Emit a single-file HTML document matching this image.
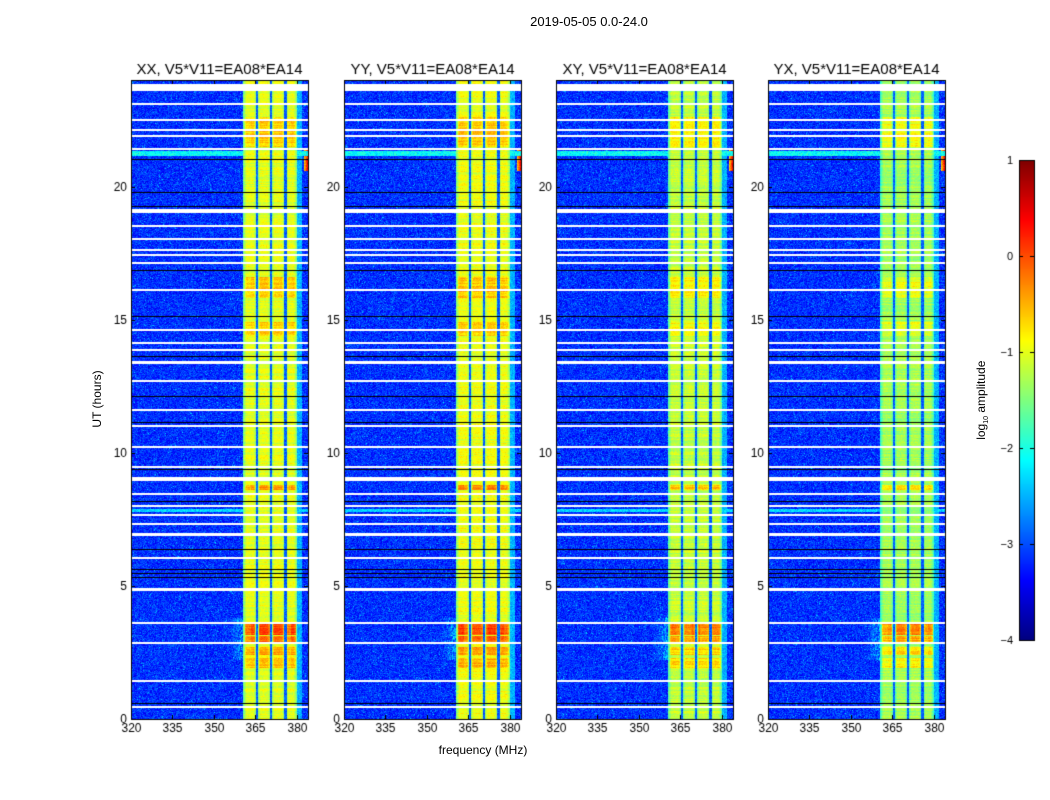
<!DOCTYPE html>
<html><head><meta charset="utf-8">
<style>
body{margin:0;background:#fff;}
#wrap{position:relative;width:1050px;height:800px;font-family:"Liberation Sans","DejaVu Sans",sans-serif;color:#000;overflow:hidden}
.t{position:absolute;white-space:nowrap}
canvas{position:absolute}
</style></head>
<body>
<div id="wrap">
<div class="t" style="left:489px;top:14px;width:200px;text-align:center;font-size:13px">2019-05-05 0.0-24.0</div>
<div class="t" style="left:383px;top:743px;width:200px;text-align:center;font-size:12px">frequency (MHz)</div>
<div class="t" style="left:47px;top:392px;width:100px;text-align:center;font-size:12px;transform:rotate(-90deg)">UT (hours)</div>
<div class="t" style="left:922px;top:392px;width:120px;text-align:center;font-size:12px;transform:rotate(-90deg)">log<sub style="font-size:7px">10</sub> amplitude</div>
<canvas id="cv" width="1050" height="800" style="left:0;top:0"></canvas>
</div>
<script>
// ---- data ----
const panelTitles=["XX, V5*V11=EA08*EA14","YY, V5*V11=EA08*EA14","XY, V5*V11=EA08*EA14","YX, V5*V11=EA08*EA14"];
const panelLeft=[131,344,556,768];
const xTicks=[320,335,350,365,380];
const yTicks=[0,5,10,15,20];
const cbTicks=[1,0,-1,-2,-3,-4];
const freqRange=[320,384];
const hourRange=[0,24];
const bandRange=[360.6,380.1];
const subbandEdges=[365.6,370.7,375.8];
const flaggedRows=[[23.6,23.85],[23.1,23.15],[22.5,22.55],[22.1,22.15],[21.9,21.95],[21.4,21.45],[19.0,19.15],[18.5,18.55],[18.0,18.05],[17.6,17.65],[17.4,17.45],[17.1,17.15],[16.1,16.15],[14.6,14.65],[14.1,14.15],[13.85,13.9],[13.35,13.45],[12.7,12.75],[11.6,11.65],[11.0,11.05],[10.2,10.25],[9.45,9.5],[8.95,9.1],[8.45,8.5],[8.0,8.05],[7.65,7.7],[7.3,7.35],[6.85,6.97],[6.05,6.1],[4.8,4.92],[3.6,3.65],[2.85,2.9],[1.43,1.48],[0.43,0.48]];
const darkRows=[[21.05],[19.8],[19.25],[16.85],[15.15],[13.65],[12.15],[11.15],[9.4],[8.2],[6.4],[5.65],[5.5],[5.35],[0.6]];
const hotRows=[[1.9,2.3,0.5],[2.4,2.7,0.6],[2.9,3.1,0.9],[3.15,3.55,1.1],[8.6,8.8,0.7],[15.8,16.6,0.4],[14.4,14.9,0.35],[21.5,22.6,0.4]];
const bandLevel=[-1.0,-0.95,-1.15,-1.3];
const cyanRows=[[21.15,21.35,-2.1],[7.78,7.88,-2.3]];
const vmin=-4,vmax=1;
// ---- drawing ----
const cv=document.getElementById('cv'),ctx=cv.getContext('2d');
const W=177,top0=80,bot=719;
function xScale(f,l){return l+(f-freqRange[0])/(freqRange[1]-freqRange[0])*W;}
function yScale(h){return bot-(h-hourRange[0])/(hourRange[1]-hourRange[0])*(bot-top0);}
function jet(t){t=Math.max(0,Math.min(1,t));
 const r=Math.max(0,Math.min(1,1.5-Math.abs(4*t-3))),g=Math.max(0,Math.min(1,1.5-Math.abs(4*t-2))),b=Math.max(0,Math.min(1,1.5-Math.abs(4*t-1)));
 return [r*255|0,g*255|0,b*255|0];}
function hash(a,b,c){let h=(a*374761393+b*668265263+c*2147483647)|0;h=(h^(h>>>13))*1274126177|0;return ((h^(h>>>16))>>>0)/4294967296;}
const H=bot-top0;
panelLeft.forEach((L,p)=>{
 const img=ctx.createImageData(W,H);
 for(let y=0;y<H;y++){
  const h=hourRange[1]-(y+0.5)/H*(hourRange[1]-hourRange[0]);
  const rowJit=(hash(0,y,p+9)-0.5)*0.3;
  for(let x=0;x<W;x++){
   const f=freqRange[0]+(x+0.5)/W*(freqRange[1]-freqRange[0]);
   const n=(hash(x,y,p)+hash(x+7,y*3,p+1)-1);
   let v=-3.15+n*0.45;
   if(hash(x,y,p+5)>0.97) v+=0.5;
   if(f>=bandRange[0]&&f<=bandRange[1]){
     let d=1e9;const ed=[bandRange[0],...subbandEdges,bandRange[1]];
     for(const e of ed)d=Math.min(d,Math.abs(f-e));
     v=bandLevel[p]+n*0.2+rowJit-Math.max(0,1.2-d)*0.5;
     for(const e of subbandEdges){if(Math.abs(f-e)<0.45)v=-2.9+n*0.3;}
     for(const hr of hotRows){if(h>=hr[0]&&h<=hr[1]&&d>0.6)v+=hr[2]*(1-0.3*hash(x>>3,0,p));}
   } else if(f>355&&f<bandRange[0]&&h>2.2&&h<3.8){v+=(f-355)/5.6*0.9*hash(x,y>>1,p+3);}
   else if(f>bandRange[1]){ if(f<382)v=-2.5+n*0.3; if(h>20.6&&h<21.4&&f>382.5)v=-0.8+(f-382.5)*0.9+n*0.3; }
   for(const c of cyanRows){if(h>=c[0]&&h<=c[1]&&!(f>=bandRange[0]&&f<=bandRange[1]))v=c[2]+n*0.4;}
   const col=jet((v-vmin)/(vmax-vmin));
   const i=(y*W+x)*4;img.data[i]=col[0];img.data[i+1]=col[1];img.data[i+2]=col[2];img.data[i+3]=255;
  }
 }
 ctx.putImageData(img,L,top0);
 ctx.fillStyle='#000';
 darkRows.forEach(r=>{ctx.fillRect(L,Math.round(yScale(r[0])),W,1);});
 ctx.fillStyle='#fff';
 flaggedRows.forEach(r=>{const y1=yScale(r[1]),y0=yScale(r[0]);ctx.fillRect(L,Math.round(y1),W,Math.max(2,Math.round(y0-y1)));});
 ctx.strokeStyle='#000';ctx.lineWidth=1;ctx.strokeRect(L+0.5,top0+0.5,W,H);
 ctx.font='12px "Liberation Sans",sans-serif';ctx.fillStyle='#000';
 ctx.textAlign='center';ctx.textBaseline='top';
 xTicks.forEach(t=>{const x=Math.round(xScale(t,L))+0.5;ctx.beginPath();ctx.moveTo(x,bot);ctx.lineTo(x,bot-4);ctx.moveTo(x,top0);ctx.lineTo(x,top0+4);ctx.stroke();ctx.fillText(String(t),x,bot+4);});
 ctx.textAlign='right';ctx.textBaseline='middle';
 yTicks.forEach(t=>{const y=Math.round(yScale(t))+0.5;ctx.beginPath();ctx.moveTo(L,y);ctx.lineTo(L+4,y);ctx.moveTo(L+W,y);ctx.lineTo(L+W-4,y);ctx.stroke();ctx.fillText(String(t),L-4,y);});
 ctx.font='15px "Liberation Sans",sans-serif';ctx.textAlign='center';ctx.textBaseline='alphabetic';
 ctx.fillText(panelTitles[p],L+W/2,74);
});
// colorbar
const cbX=1019,cbW=15,cbT=160,cbB=640;
for(let y=cbT;y<cbB;y++){const c=jet(1-(y-cbT)/(cbB-cbT));ctx.fillStyle=`rgb(${c[0]},${c[1]},${c[2]})`;ctx.fillRect(cbX,y,cbW,1);}
ctx.strokeStyle='#000';ctx.strokeRect(cbX+0.5,cbT+0.5,cbW,cbB-cbT);
ctx.font='11px "Liberation Sans",sans-serif';ctx.fillStyle='#000';ctx.textAlign='right';ctx.textBaseline='middle';
cbTicks.forEach(t=>{const y=Math.round(cbB-(t-vmin)/(vmax-vmin)*(cbB-cbT))+0.5;ctx.beginPath();ctx.moveTo(cbX,y);ctx.lineTo(cbX+4,y);ctx.moveTo(cbX+cbW,y);ctx.lineTo(cbX+cbW-4,y);ctx.stroke();ctx.fillText(t<0?'\u2212'+(-t):String(t),1013,y);});
</script>
</body></html>
